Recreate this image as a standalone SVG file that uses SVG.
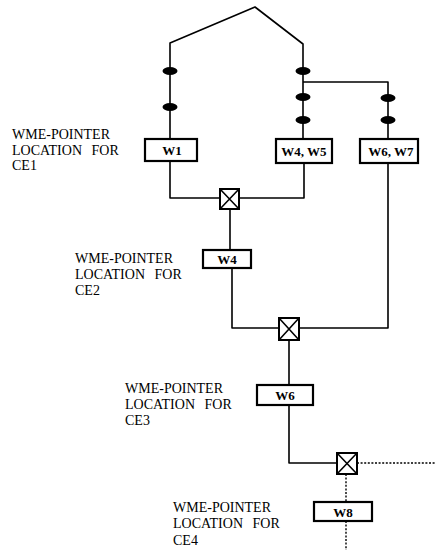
<svg xmlns="http://www.w3.org/2000/svg" width="436" height="550" viewBox="0 0 436 550">
<style>
.ln{fill:none;stroke:#000;stroke-width:1.6;stroke-linejoin:round}
.dt{fill:none;stroke:#000;stroke-width:1.4;stroke-dasharray:2,1.6}
.box{fill:#fff;stroke:#000;stroke-width:2.2}
.xb{fill:#fff;stroke:#000;stroke-width:2}
.ov{fill:#000}
.lbl{font-family:"Liberation Serif","Times New Roman",serif;font-size:14px;fill:#000}
.bt{font-family:"Liberation Serif","Times New Roman",serif;font-size:13px;font-weight:bold;fill:#000;text-anchor:middle}
</style>
<rect width="436" height="550" fill="#fff"/>
<g id="connectors">
<polyline class="ln" points="170,139 170,43 255,7 303,44 303,139"/>
<polyline class="ln" points="303,82 388,82 388,139"/>
<polyline class="ln" points="170,161 170,198 220,198"/>
<polyline class="ln" points="304,163 304,198 239,198"/>
<polyline class="ln" points="230,209 230,250"/>
<polyline class="ln" points="232,268 232,328 279,328"/>
<polyline class="ln" points="388,163 388,328 299,328"/>
<polyline class="ln" points="289,340 289,385"/>
<polyline class="ln" points="289,405 289,463 337,463"/>
<polyline class="dt" points="357,463 436,463"/>
<polyline class="dt" points="346,474 346,502"/>
<polyline class="dt" points="346,521 346,550"/>
</g>
<g id="ovals">
<ellipse class="ov" cx="170" cy="71" rx="7.5" ry="4"/>
<ellipse class="ov" cx="170" cy="107" rx="7.5" ry="4"/>
<ellipse class="ov" cx="303" cy="71" rx="7.5" ry="4"/>
<ellipse class="ov" cx="303" cy="97" rx="7.5" ry="4"/>
<ellipse class="ov" cx="303" cy="120" rx="7.5" ry="4"/>
<ellipse class="ov" cx="388" cy="98" rx="7.5" ry="4"/>
<ellipse class="ov" cx="388" cy="120" rx="7.5" ry="4"/>
</g>
<g id="W1"><rect class="box" x="145" y="139" width="52" height="22"/><text class="bt" x="172" y="155">W1</text></g>
<g id="W4W5"><rect class="box" x="276" y="139" width="56" height="24"/><text class="bt" x="304" y="156">W4, W5</text></g>
<g id="W6W7"><rect class="box" x="360" y="139" width="58" height="24"/><text class="bt" x="391" y="156">W6, W7</text></g>
<g id="X1"><rect class="xb" x="220" y="189" width="19" height="20"/><path class="ln" d="M220,189L239,209M239,189L220,209"/></g>
<g id="W4"><rect class="box" x="203" y="250" width="48" height="18"/><text class="bt" x="227" y="264">W4</text></g>
<g id="X2"><rect class="xb" x="279" y="318" width="20" height="22"/><path class="ln" d="M279,318L299,340M299,318L279,340"/></g>
<g id="W6"><rect class="box" x="257" y="385" width="56" height="20"/><text class="bt" x="285" y="400">W6</text></g>
<g id="X3"><rect class="xb" x="337" y="453" width="20" height="21"/><path class="ln" d="M337,453L357,474M357,453L337,474"/></g>
<g id="W8"><rect class="box" x="314" y="502" width="58" height="19"/><text class="bt" x="343" y="517">W8</text></g>
<g id="label-CE1"><text class="lbl" x="12" y="139">WME-POINTER</text><text class="lbl" x="12" y="155" word-spacing="6">LOCATION FOR</text><text class="lbl" x="12" y="170">CE1</text></g>
<g id="label-CE2"><text class="lbl" x="75" y="263">WME-POINTER</text><text class="lbl" x="75" y="279" word-spacing="6">LOCATION FOR</text><text class="lbl" x="75" y="295">CE2</text></g>
<g id="label-CE3"><text class="lbl" x="125" y="393">WME-POINTER</text><text class="lbl" x="125" y="409" word-spacing="6">LOCATION FOR</text><text class="lbl" x="125" y="425">CE3</text></g>
<g id="label-CE4"><text class="lbl" x="173" y="512">WME-POINTER</text><text class="lbl" x="173" y="528" word-spacing="6">LOCATION FOR</text><text class="lbl" x="173" y="545">CE4</text></g>
</svg>
